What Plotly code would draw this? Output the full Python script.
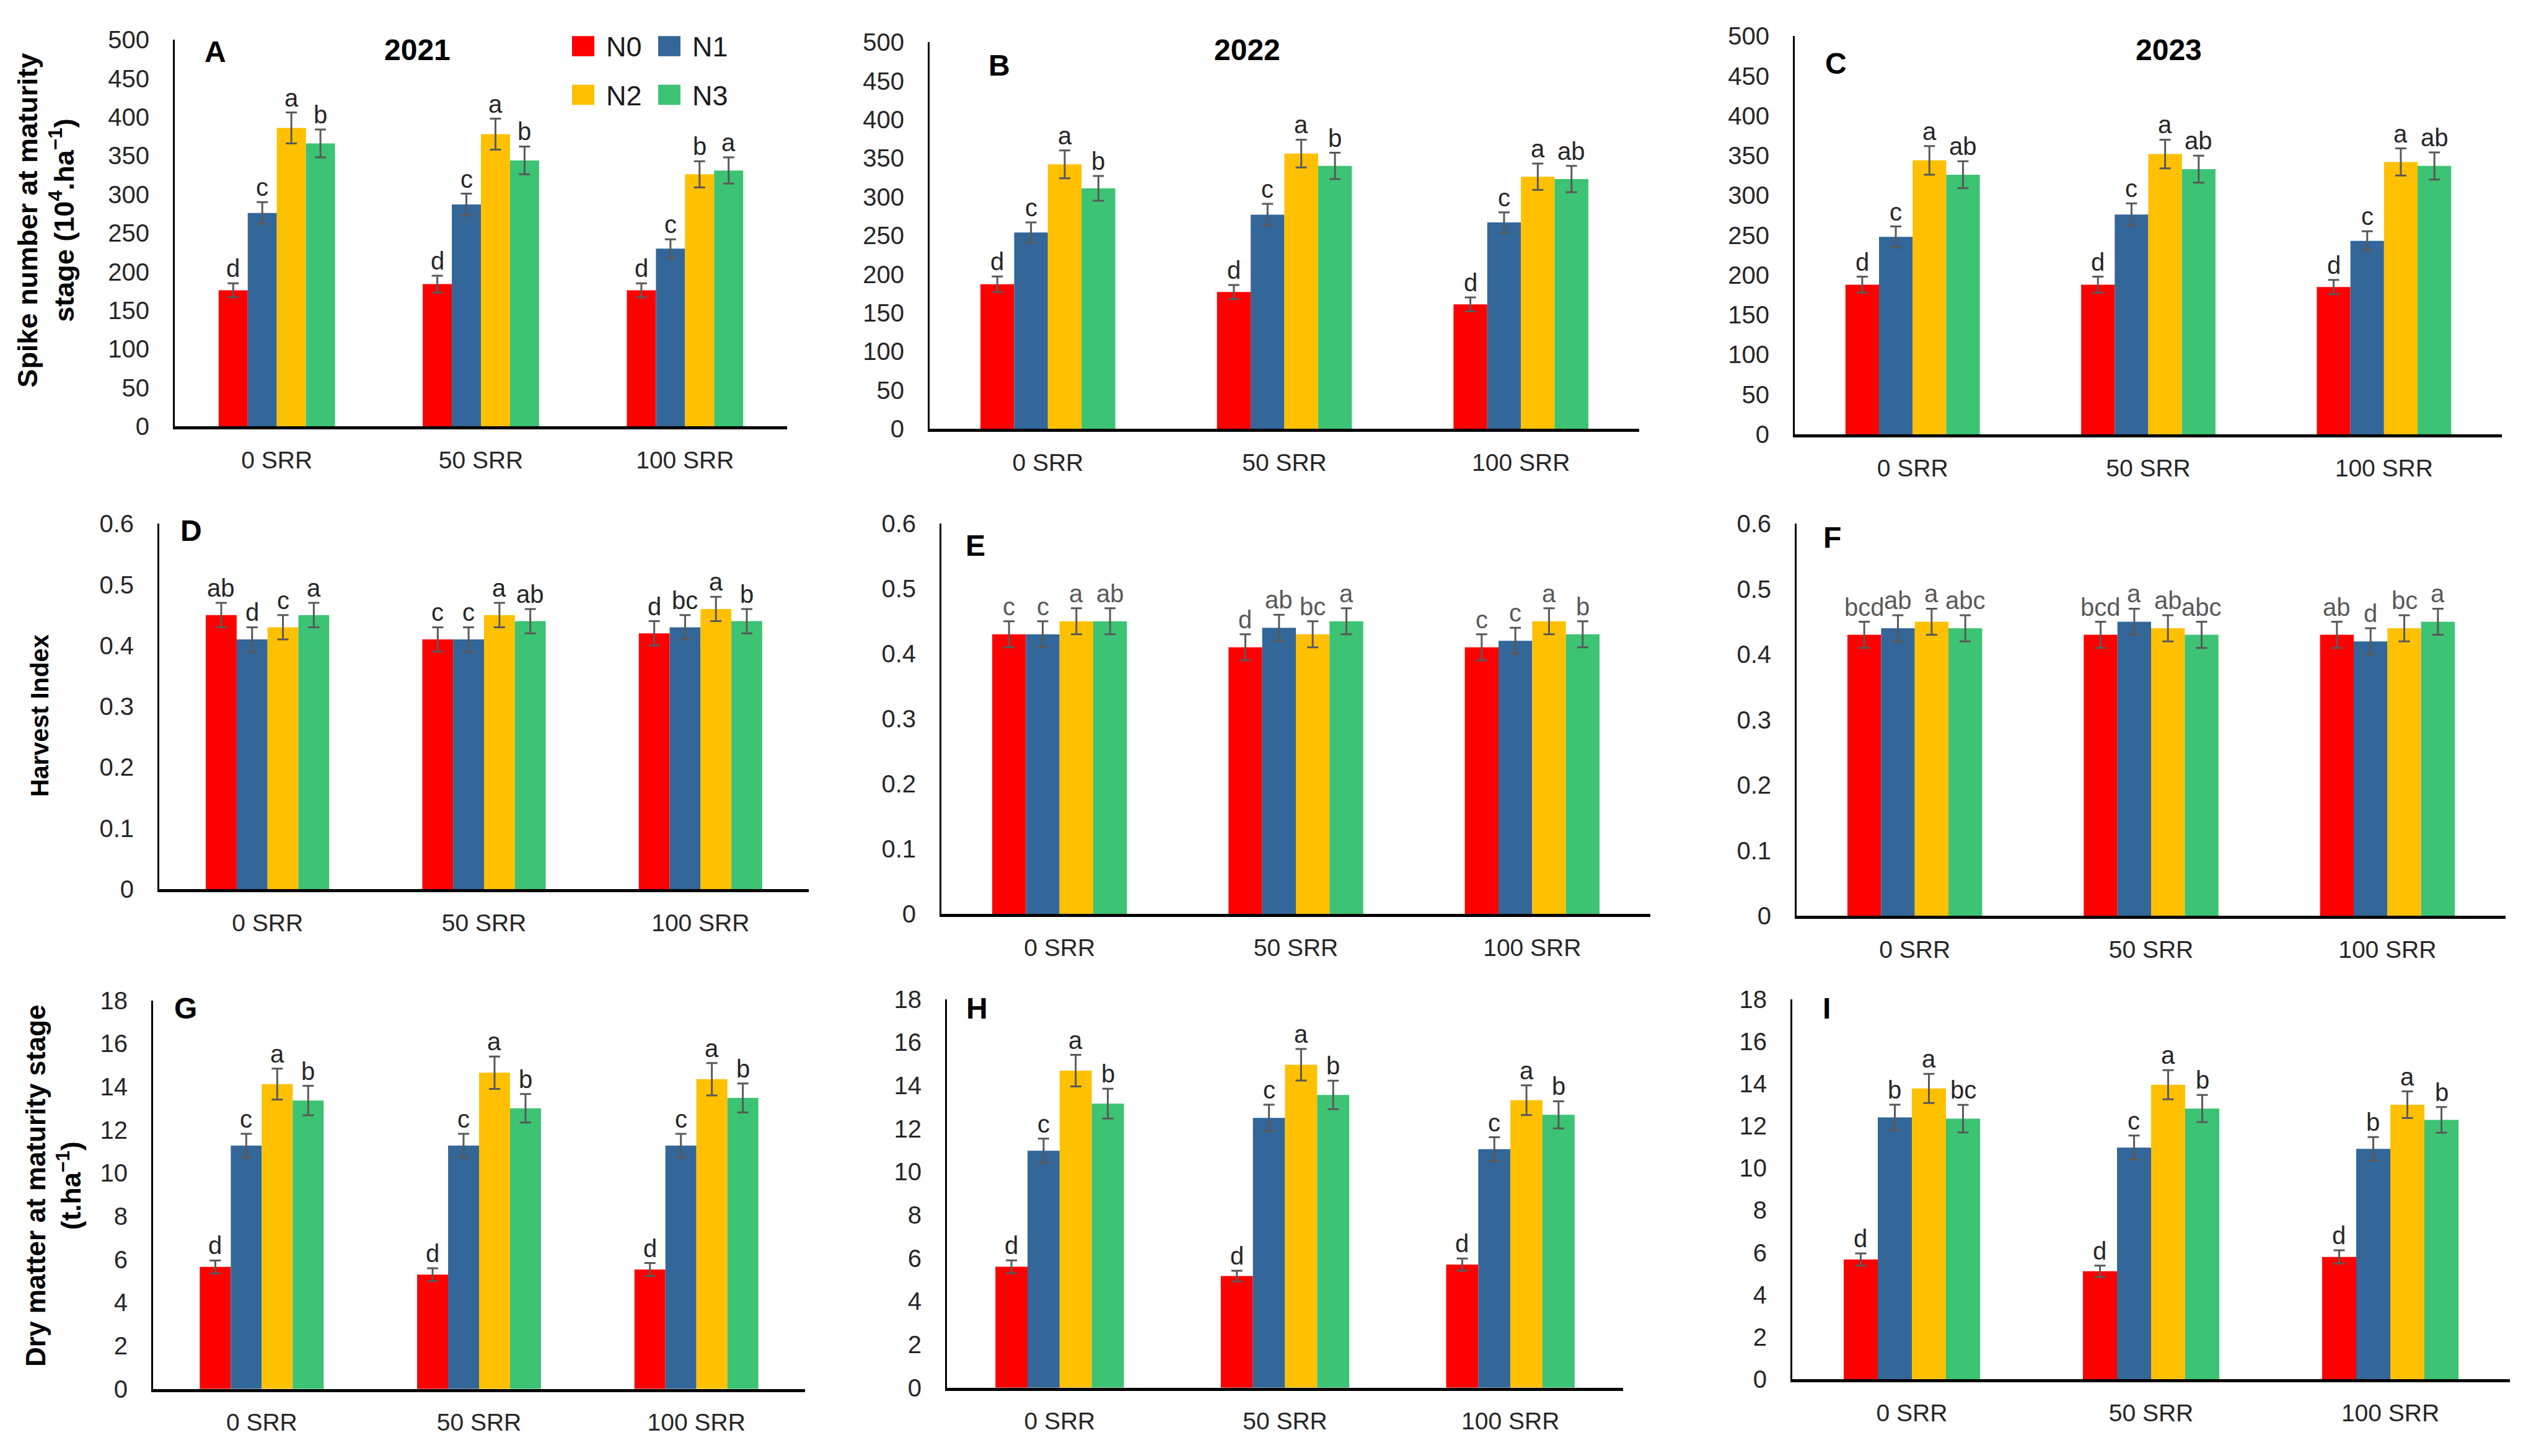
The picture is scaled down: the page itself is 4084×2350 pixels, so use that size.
import plotly.graph_objects as go

W, H = 4084, 2350

categories = ["0 SRR", "50 SRR", "100 SRR"]
nitrogen = ["N0", "N1", "N2", "N3"]
colors = ["#FF0000", "#336699", "#FFC000", "#3CC373"]

# ---- Spike number (10^4 ha^-1) ----
spike_2021 = [[176, 184, 176], [276, 287, 230], [386, 378, 326], [366, 344, 331]]
spike_2021_err = [[9, 11, 9], [14, 14, 12], [20, 20, 17], [18, 18, 17]]
spike_2021_letters = [["d", "d", "d"], ["c", "c", "c"], ["a", "a", "b"], ["b", "b", "a"]]

spike_2022 = [[187, 177, 161], [254, 277, 267], [342, 356, 326], [311, 340, 323]]
spike_2022_err = [[10, 9, 9], [13, 14, 13], [18, 18, 17], [16, 17, 17]]
spike_2022_letters = [["d", "d", "d"], ["c", "c", "c"], ["a", "a", "a"], ["b", "b", "ab"]]

spike_2023 = [[188, 188, 185], [248, 276, 243], [344, 352, 342], [326, 333, 337]]
spike_2023_err = [[10, 10, 9], [13, 14, 12], [18, 18, 17], [17, 17, 17]]
spike_2023_letters = [["d", "d", "d"], ["c", "c", "c"], ["a", "a", "a"], ["ab", "ab", "ab"]]

# ---- Harvest index ----
hi_2021 = [[0.45, 0.41, 0.42], [0.41, 0.41, 0.43], [0.43, 0.45, 0.46], [0.45, 0.44, 0.44]]
hi_2021_err = [[0.02, 0.02, 0.02], [0.02, 0.02, 0.02], [0.02, 0.02, 0.02], [0.02, 0.02, 0.02]]
hi_2021_letters = [["ab", "c", "d"], ["d", "c", "bc"], ["c", "a", "a"], ["a", "ab", "b"]]

hi_2022 = [[0.43, 0.41, 0.41], [0.43, 0.44, 0.42], [0.45, 0.43, 0.45], [0.45, 0.45, 0.43]]
hi_2022_err = [[0.02, 0.02, 0.02], [0.02, 0.02, 0.02], [0.02, 0.02, 0.02], [0.02, 0.02, 0.02]]
hi_2022_letters = [["c", "d", "c"], ["c", "ab", "c"], ["a", "bc", "a"], ["ab", "a", "b"]]

hi_2023 = [[0.43, 0.43, 0.43], [0.44, 0.45, 0.42], [0.45, 0.44, 0.44], [0.44, 0.43, 0.45]]
hi_2023_err = [[0.02, 0.02, 0.02], [0.02, 0.02, 0.02], [0.02, 0.02, 0.02], [0.02, 0.02, 0.02]]
hi_2023_letters = [["bcd", "bcd", "ab"], ["ab", "a", "d"], ["a", "ab", "bc"], ["abc", "abc", "a"]]

# ---- Dry matter (t ha^-1) ----
dm_2021 = [[5.65, 5.29, 5.53], [11.27, 11.27, 11.27], [14.12, 14.65, 14.35], [13.36, 13.0, 13.48]]
dm_2021_err = [[0.3, 0.3, 0.3], [0.55, 0.55, 0.55], [0.72, 0.75, 0.75], [0.68, 0.66, 0.67]]
dm_2021_letters = [["d", "d", "d"], ["c", "c", "c"], ["a", "a", "a"], ["b", "b", "b"]]

dm_2022 = [[5.6, 5.17, 5.7], [10.98, 12.5, 11.05], [14.69, 14.96, 13.32], [13.16, 13.56, 12.64]]
dm_2022_err = [[0.3, 0.25, 0.28], [0.56, 0.61, 0.55], [0.73, 0.73, 0.69], [0.69, 0.66, 0.63]]
dm_2022_letters = [["d", "d", "d"], ["c", "c", "c"], ["a", "a", "a"], ["b", "b", "b"]]

dm_2023 = [[5.67, 5.11, 5.79], [12.4, 10.97, 10.91], [13.77, 13.95, 13.0], [12.34, 12.82, 12.28]]
dm_2023_err = [[0.29, 0.27, 0.31], [0.6, 0.57, 0.56], [0.69, 0.69, 0.63], [0.65, 0.64, 0.61]]
dm_2023_letters = [["d", "d", "d"], ["b", "c", "b"], ["a", "a", "a"], ["bc", "b", "b"]]

years = ["2021", "2022", "2023"]
panel_labels = ["A", "B", "C", "D", "E", "F", "G", "H", "I"]

FONT = "Arial, Liberation Sans, sans-serif"
BARGAP = 0.43

# layout boxes in pixels: (x0, x1, ytop, ybottom)
panels = [
    dict(vals=spike_2021, err=spike_2021_err, let=spike_2021_letters, rng=[0, 500], dtick=50, box=(282, 1270, 43, 679), lab=(347, 63), lc="#262626"),
    dict(vals=spike_2022, err=spike_2022_err, let=spike_2022_letters, rng=[0, 500], dtick=50, box=(1500, 2645, 47, 683), lab=(1612, 85), lc="#262626"),
    dict(vals=spike_2023, err=spike_2023_err, let=spike_2023_letters, rng=[0, 500], dtick=50, box=(2896, 4037, 37, 692), lab=(2962, 82), lc="#262626"),
    dict(vals=hi_2021, err=hi_2021_err, let=hi_2021_letters, rng=[0, 0.6], dtick=0.1, box=(257, 1305, 839, 1440), lab=(308, 850), lc="#262626"),
    dict(vals=hi_2022, err=hi_2022_err, let=hi_2022_letters, rng=[0, 0.6], dtick=0.1, box=(1519, 2663, 839, 1481), lab=(1574, 875), lc="#595959"),
    dict(vals=hi_2023, err=hi_2023_err, let=hi_2023_letters, rng=[0, 0.6], dtick=0.1, box=(2899, 4043, 839, 1484), lab=(2956, 862), lc="#595959"),
    dict(vals=dm_2021, err=dm_2021_err, let=dm_2021_letters, rng=[0, 18], dtick=2, box=(247, 1299, 1623, 2262), lab=(299, 1636), lc="#262626"),
    dict(vals=dm_2022, err=dm_2022_err, let=dm_2022_letters, rng=[0, 18], dtick=2, box=(1528, 2619, 1621, 2260), lab=(1576, 1636), lc="#262626"),
    dict(vals=dm_2023, err=dm_2023_err, let=dm_2023_letters, rng=[0, 18], dtick=2, box=(2892, 4050, 1621, 2246), lab=(2947, 1636), lc="#262626"),
]

fig = go.Figure()
annotations = []
shapes = []


def px(x):
    return x / W


def py(y):
    return 1 - y / H


def paper_text(x, y, text, size, color="black", angle=0, xanchor="center"):
    return dict(x=px(x), y=py(y), xref="paper", yref="paper", text=text, showarrow=False,
                xanchor=xanchor, yanchor="middle", textangle=angle,
                font=dict(size=size, color=color, family=FONT))


for k, p in enumerate(panels):
    n = k + 1
    xa = "x" if n == 1 else f"x{n}"
    ya = "y" if n == 1 else f"y{n}"
    x0, x1, yt, yb = p["box"]
    for i in range(4):
        fig.add_trace(go.Bar(
            x=categories, y=p["vals"][i], name=nitrogen[i],
            marker=dict(color=colors[i], line=dict(width=0)),
            error_y=dict(type="data", array=p["err"][i], color="#595959", thickness=3, width=9),
            xaxis=xa, yaxis=ya, showlegend=False, offsetgroup=str(i),
        ))
    # significance letters above the error bars
    catw = (x1 - x0) / 3
    bw = catw * (1 - BARGAP) / 4
    for i in range(4):
        for j, c in enumerate(categories):
            annotations.append(dict(
                x=c, y=p["vals"][i][j] + p["err"][i][j], xref=xa, yref=ya,
                text=p["let"][i][j], showarrow=False, xanchor="center", yanchor="bottom", yshift=0,
                xshift=(i - 1.5) * bw, font=dict(size=40, color=p["lc"], family=FONT),
            ))
    annotations.append(paper_text(p["lab"][0], p["lab"][1], f"<b>{panel_labels[k]}</b>", 48))
    xkey = "xaxis" if n == 1 else f"xaxis{n}"
    ykey = "yaxis" if n == 1 else f"yaxis{n}"
    fig.update_layout(**{
        xkey: dict(domain=[px(x0), px(x1)], anchor=ya, type="category", categoryorder="array",
                   categoryarray=categories, showline=True, linecolor="black", linewidth=5,
                   ticks="", showgrid=False, zeroline=False, ticklabelstandoff=16,
                   tickfont=dict(size=39, color="#262626", family=FONT)),
        ykey: dict(domain=[py(yb), py(yt)], anchor=xa, range=p["rng"], dtick=p["dtick"],
                   showline=True, linecolor="black", linewidth=3, ticks="", showgrid=False,
                   zeroline=False, ticklabelstandoff=30,
                   tickfont=dict(size=40, color="#262626", family=FONT)),
    })

# year titles
for yr, xx in zip(years, [673, 2012, 3499]):
    annotations.append(paper_text(xx, 60, f"<b>{yr}</b>", 48))

# y-axis titles
annotations.append(paper_text(74, 340, "<b>Spike number at maturity<br>stage (10<sup>4</sup>.ha<sup>−1</sup>)</b>", 45, angle=-90))
annotations.append(paper_text(64, 1155, "<b>Harvest Index</b>", 40, angle=-90))
annotations.append(paper_text(86, 1928, "<b>Dry matter at maturity stage<br>(t.ha<sup>−1</sup>)</b>", 44, angle=-90))

# legend (manual, two rows x two columns) inside panel A
leg_pos = [(923, 37), (1062, 37), (923, 117), (1062, 117)]
for i, (lx, ly) in enumerate(leg_pos):
    shapes.append(dict(type="rect", xref="paper", yref="paper",
                       x0=px(lx), x1=px(lx + 36), y0=py(ly + 33), y1=py(ly),
                       fillcolor=colors[i], line=dict(width=0)))
    annotations.append(paper_text(lx + 53, ly + 18, nitrogen[i], 45, color="#1a1a1a", xanchor="left"))

fig.update_layout(
    width=W, height=H, margin=dict(l=0, r=0, t=0, b=0),
    paper_bgcolor="white", plot_bgcolor="white",
    barmode="group", bargap=BARGAP, bargroupgap=0,
    annotations=annotations, shapes=shapes, showlegend=False,
    font=dict(family=FONT),
)

fig.write_html("out.html", config={"displayModeBar": False},
               post_script="document.body.style.margin='0px';")
